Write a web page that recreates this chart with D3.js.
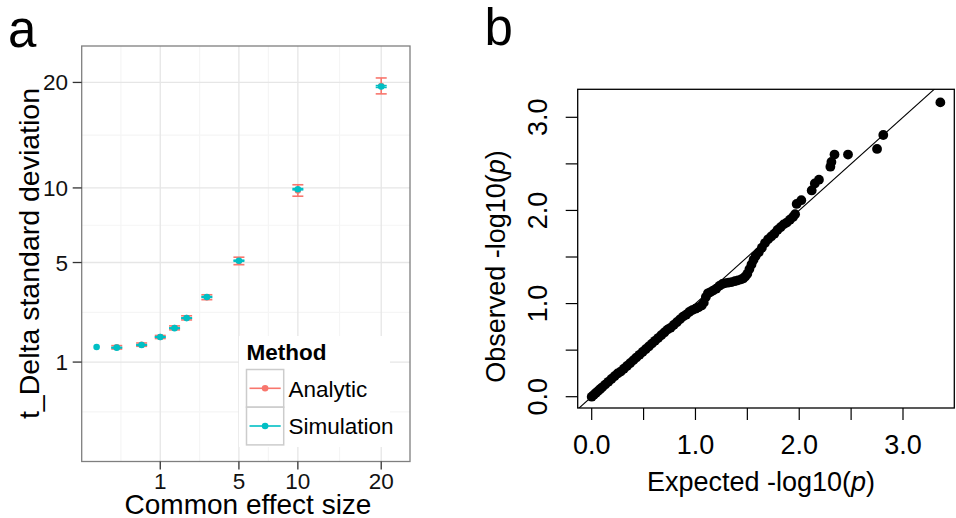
<!DOCTYPE html>
<html>
<head>
<meta charset="utf-8">
<script src="https://cdn.jsdelivr.net/npm/d3@7"></script>
<style>
  html, body { margin: 0; padding: 0; background: #fff; }
  svg { display: block; }
  text { font-family: "Liberation Sans", Arial, Helvetica, sans-serif; }
</style>
</head>
<body>
<svg id="chart" width="956" height="518"></svg>
<script>
// ---------- Panel a data ----------
const effectSize = [0, 0.1, 0.5, 1, 1.5, 2, 3, 5, 10, 20];
const simMean  = [1.41, 1.39, 1.47, 1.72, 2.02, 2.39, 3.27, 5.10, 9.90, 19.55];
const simLower = [1.40, 1.38, 1.46, 1.71, 2.01, 2.38, 3.25, 5.07, 9.85, 19.45];
const simUpper = [1.42, 1.40, 1.48, 1.73, 2.03, 2.40, 3.29, 5.13, 9.95, 19.65];
const anaMean  = [null, 1.40, 1.48, 1.72, 2.03, 2.40, 3.26, 5.08, 9.80, 19.60];
const anaLower = [null, 1.35, 1.43, 1.67, 1.96, 2.32, 3.15, 4.88, 9.36, 18.75];
const anaUpper = [null, 1.45, 1.53, 1.77, 2.10, 2.48, 3.37, 5.30, 10.25, 20.50];
const methods = ["Analytic", "Simulation"];
const axisBreaksA = [1, 5, 10, 20];
const axisLabelsA = ["1", "5", "10", "20"];

// ---------- Panel b data ----------
const expectedP = [0.00,0.02,0.04,0.06,0.08,0.10,0.13,0.16,0.19,0.22,0.25,0.28,0.31,0.34,0.37,0.40,0.43,0.46,0.49,0.52,0.55,0.58,0.61,0.64,0.67,0.70,0.73,0.76,0.79,0.82,0.85,0.88,0.91,0.94,0.97,1.00,1.03,1.06,1.08,1.10,1.12,1.14,1.17,1.20,1.23,1.26,1.29,1.32,1.35,1.38,1.41,1.44,1.46,1.48,1.50,1.52,1.54,1.56,1.58,1.61,1.64,1.67,1.70,1.73,1.76,1.79,1.82,1.85,1.88,1.91,1.94,1.96,1.975,2.02,2.12,2.15,2.19,2.30,2.31,2.34,2.47,2.75,2.81,3.36];
const observedP = [0.00,0.02,0.04,0.06,0.08,0.10,0.13,0.16,0.19,0.22,0.25,0.27,0.30,0.33,0.36,0.39,0.42,0.45,0.48,0.51,0.54,0.57,0.60,0.63,0.66,0.69,0.72,0.74,0.77,0.80,0.83,0.86,0.88,0.91,0.93,0.945,0.96,0.98,1.01,1.07,1.11,1.12,1.14,1.16,1.19,1.21,1.22,1.225,1.23,1.24,1.25,1.26,1.27,1.29,1.32,1.37,1.42,1.47,1.51,1.55,1.60,1.65,1.69,1.72,1.75,1.79,1.82,1.85,1.87,1.90,1.93,1.96,2.07,2.11,2.215,2.29,2.33,2.47,2.52,2.60,2.60,2.66,2.81,3.16];
const majorTicksB = [0, 0.5, 1, 1.5, 2, 2.5, 3];
const tickLabelsB = ["0.0", "1.0", "2.0", "3.0"];

const colors = { Analytic: "#F8766D", Simulation: "#00BFC4" };
const svg = d3.select("#chart");

// ================= Panel a =================
(function () {
  const L = 81.7, R = 410, T = 46, B = 461.5;
  const tMin = -0.2345, tMax = 4.9245; // transformed (sqrt) domain incl. expansion
  const sq = v => (v < 0 ? -v * v : v * v);
  const x = d3.scaleSqrt().domain([sq(tMin), sq(tMax)]).range([L, R]);
  const y = d3.scaleSqrt().domain([sq(tMin), sq(tMax)]).range([B, T]);
  const g = svg.append("g");

  // minor breaks (midpoints in sqrt space)
  const tb = axisBreaksA.map(Math.sqrt);
  const minorT = [tb[0] - (tb[1] - tb[0]) / 2];
  for (let i = 0; i < tb.length - 1; i++) minorT.push((tb[i] + tb[i + 1]) / 2);
  const minor = minorT.map(t => t * t);

  g.append("rect").attr("x", L).attr("y", T).attr("width", R - L).attr("height", B - T).attr("fill", "#fff");
  g.selectAll(".mx").data(minor).join("line")
    .attr("x1", d => x(d)).attr("x2", d => x(d)).attr("y1", T).attr("y2", B)
    .attr("stroke", "#f5f5f5").attr("stroke-width", 1.2);
  g.selectAll(".my").data(minor).join("line")
    .attr("y1", d => y(d)).attr("y2", d => y(d)).attr("x1", L).attr("x2", R)
    .attr("stroke", "#f5f5f5").attr("stroke-width", 1.2);
  g.selectAll(".gx").data(axisBreaksA).join("line")
    .attr("x1", d => x(d)).attr("x2", d => x(d)).attr("y1", T).attr("y2", B)
    .attr("stroke", "#e6e6e6").attr("stroke-width", 1.3);
  g.selectAll(".gy").data(axisBreaksA).join("line")
    .attr("y1", d => y(d)).attr("y2", d => y(d)).attr("x1", L).attr("x2", R)
    .attr("stroke", "#e6e6e6").attr("stroke-width", 1.3);

  const cap = 5.5;
  const idx = d3.range(effectSize.length);
  // Analytic error bars
  const ana = idx.filter(i => anaMean[i] !== null);
  const ga = g.append("g").attr("stroke", colors.Analytic).attr("stroke-width", 1.6).attr("fill", "none");
  ana.forEach(i => {
    const cx = x(effectSize[i]);
    ga.append("line").attr("x1", cx).attr("x2", cx).attr("y1", y(anaLower[i])).attr("y2", y(anaUpper[i]));
    ga.append("line").attr("x1", cx - cap).attr("x2", cx + cap).attr("y1", y(anaLower[i])).attr("y2", y(anaLower[i]));
    ga.append("line").attr("x1", cx - cap).attr("x2", cx + cap).attr("y1", y(anaUpper[i])).attr("y2", y(anaUpper[i]));
  });
  g.selectAll(".pa").data(ana).join("circle")
    .attr("cx", i => x(effectSize[i])).attr("cy", i => y(anaMean[i])).attr("r", 3.2)
    .attr("fill", colors.Analytic);
  // Simulation error bars
  const gs = g.append("g").attr("stroke", colors.Simulation).attr("stroke-width", 1.6).attr("fill", "none");
  idx.filter(i => i > 0).forEach(i => {
    const cx = x(effectSize[i]);
    gs.append("line").attr("x1", cx).attr("x2", cx).attr("y1", y(simLower[i])).attr("y2", y(simUpper[i]));
    gs.append("line").attr("x1", cx - cap).attr("x2", cx + cap).attr("y1", y(simLower[i])).attr("y2", y(simLower[i]));
    gs.append("line").attr("x1", cx - cap).attr("x2", cx + cap).attr("y1", y(simUpper[i])).attr("y2", y(simUpper[i]));
  });
  g.selectAll(".ps").data(idx).join("circle")
    .attr("cx", i => x(effectSize[i])).attr("cy", i => y(simMean[i])).attr("r", 3.3)
    .attr("fill", colors.Simulation);

  // border
  g.append("rect").attr("x", L).attr("y", T).attr("width", R - L).attr("height", B - T)
    .attr("fill", "none").attr("stroke", "#7f7f7f").attr("stroke-width", 1.3);

  // axes ticks & labels
  g.selectAll(".tx").data(axisBreaksA).join("line")
    .attr("x1", d => x(d)).attr("x2", d => x(d)).attr("y1", B).attr("y2", B + 8)
    .attr("stroke", "#333").attr("stroke-width", 1.3);
  g.selectAll(".ty").data(axisBreaksA).join("line")
    .attr("y1", d => y(d)).attr("y2", d => y(d)).attr("x1", L - 9).attr("x2", L)
    .attr("stroke", "#333").attr("stroke-width", 1.3);
  g.selectAll(".lx").data(axisBreaksA).join("text")
    .attr("x", d => x(d)).attr("y", 489).attr("text-anchor", "middle")
    .attr("font-size", "22.5px").attr("fill", "#111").text((d, i) => axisLabelsA[i]);
  g.selectAll(".ly").data(axisBreaksA).join("text")
    .attr("x", 68).attr("y", d => y(d) + 8).attr("text-anchor", "end")
    .attr("font-size", "22.5px").attr("fill", "#111").text((d, i) => axisLabelsA[i]);

  g.append("text").attr("x", 248).attr("y", 514).attr("text-anchor", "middle")
    .attr("font-size", "28px").text("Common effect size");
  g.append("text").attr("transform", "translate(38.5,253.5) rotate(-90)").attr("text-anchor", "middle")
    .attr("font-size", "28.5px").text("t_Delta standard deviation");

  // legend
  const lg = g.append("g");
  lg.append("rect").attr("x", 239).attr("y", 336).attr("width", 151).attr("height", 111).attr("fill", "#fff");
  lg.append("text").attr("x", 246.5).attr("y", 360).attr("font-size", "22.5px").attr("font-weight", "bold").text("Method");
  methods.forEach((m, i) => {
    const ky = 369.5 + i * 37.7;
    lg.append("rect").attr("x", 246.5).attr("y", ky).attr("width", 37.2).attr("height", 37.7)
      .attr("fill", "#fff").attr("stroke", "#cccccc").attr("stroke-width", 1.5);
    lg.append("line").attr("x1", 249.5).attr("x2", 280.7).attr("y1", ky + 18.8).attr("y2", ky + 18.8)
      .attr("stroke", colors[m]).attr("stroke-width", 1.6);
    lg.append("circle").attr("cx", 265.1).attr("cy", ky + 18.8).attr("r", 3.3).attr("fill", colors[m]);
    lg.append("text").attr("x", 288.5).attr("y", ky + 27.2).attr("font-size", "22.5px").text(m);
  });

  svg.append("text").attr("x", 8).attr("y", 47).attr("font-size", "51px").text("a");
})();

// ================= Panel b =================
(function () {
  const L = 577.7, R = 954.3, T = 89.3, B = 408;
  const x = d3.scaleLinear().domain([-0.1349, 3.4944]).range([L, R]);
  const y = d3.scaleLinear().domain([-0.1213, 3.3007]).range([B, T]);
  const g = svg.append("g");

  svg.append("defs").append("clipPath").attr("id", "clipb")
    .append("rect").attr("x", L).attr("y", T).attr("width", R - L).attr("height", B - T);

  const pts = d3.range(expectedP.length);
  g.append("g").attr("clip-path", "url(#clipb)").selectAll("circle").data(pts).join("circle")
    .attr("cx", i => x(expectedP[i])).attr("cy", i => y(observedP[i])).attr("r", 4.9).attr("fill", "#000");

  const dom = x.domain();
  g.append("line").attr("clip-path", "url(#clipb)")
    .attr("x1", x(dom[0])).attr("y1", y(dom[0])).attr("x2", x(dom[1])).attr("y2", y(dom[1]))
    .attr("stroke", "#000").attr("stroke-width", 1.1);

  g.append("rect").attr("x", L).attr("y", T).attr("width", R - L).attr("height", B - T)
    .attr("fill", "none").attr("stroke", "#000").attr("stroke-width", 1.3);

  g.selectAll(".tx").data(majorTicksB).join("line")
    .attr("x1", d => x(d)).attr("x2", d => x(d)).attr("y1", B).attr("y2", B + 12)
    .attr("stroke", "#000").attr("stroke-width", 1.2);
  g.selectAll(".ty").data(majorTicksB).join("line")
    .attr("y1", d => y(d)).attr("y2", d => y(d)).attr("x1", L - 12).attr("x2", L)
    .attr("stroke", "#000").attr("stroke-width", 1.2);
  const labeled = [0, 1, 2, 3];
  g.selectAll(".lx").data(labeled).join("text")
    .attr("x", d => x(d)).attr("y", 453.5).attr("text-anchor", "middle")
    .attr("font-size", "27px").text((d, i) => tickLabelsB[i]);
  g.selectAll(".ly").data(labeled).join("text")
    .attr("transform", d => `translate(547,${y(d)}) rotate(-90)`).attr("text-anchor", "middle")
    .attr("font-size", "27px").text((d, i) => tickLabelsB[i]);

  const xt = g.append("text").attr("x", 761).attr("y", 490.7).attr("text-anchor", "middle").attr("font-size", "27px");
  xt.append("tspan").text("Expected -log10(");
  xt.append("tspan").attr("font-style", "italic").text("p");
  xt.append("tspan").text(")");
  const yt = g.append("text").attr("transform", "translate(504.5,266.5) rotate(-90)").attr("text-anchor", "middle").attr("font-size", "27px");
  yt.append("tspan").text("Observed -log10(");
  yt.append("tspan").attr("font-style", "italic").text("p");
  yt.append("tspan").text(")");

  svg.append("text").attr("x", 484.5).attr("y", 45).attr("font-size", "51px").text("b");
})();
</script>
</body>
</html>
